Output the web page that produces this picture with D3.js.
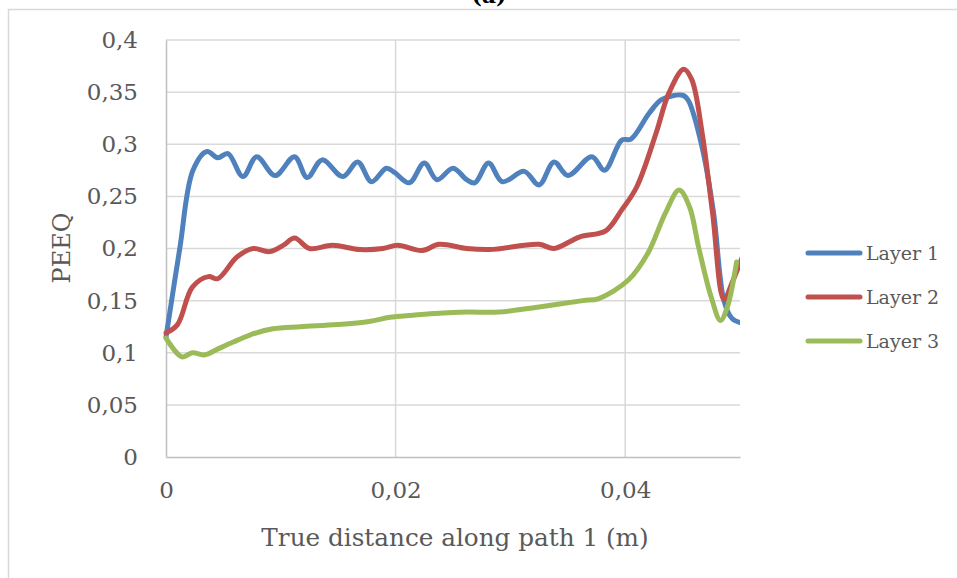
<!DOCTYPE html>
<html>
<head>
<meta charset="utf-8">
<script src="https://cdn.jsdelivr.net/npm/d3@7"></script>
<style>
  html, body { margin: 0; padding: 0; background: #fff; }
  svg { display: block; }
  text { font-family: "DejaVu Serif", "Liberation Serif", serif; fill: #595959; }
</style>
</head>
<body>
<svg id="chart" width="957" height="578"></svg>
<script>
// Distance along path (m) and PEEQ samples for each layer
const layer1X = [0, 0.0012, 0.00235, 0.00357, 0.0045, 0.0054, 0.0067, 0.0079, 0.0095, 0.0112, 0.0123, 0.0136, 0.0154, 0.0167, 0.0179, 0.0192, 0.0199, 0.0212, 0.0225, 0.0236, 0.025, 0.0262, 0.0269, 0.0281, 0.0293, 0.0312, 0.0325, 0.0338, 0.035, 0.0371, 0.0382, 0.0397, 0.0405, 0.0421, 0.0432, 0.045, 0.0455, 0.0467, 0.0477, 0.0486, 0.0493, 0.05];
const layer1Y = [0.115, 0.2, 0.275, 0.293, 0.287, 0.291, 0.269, 0.288, 0.27, 0.288, 0.268, 0.285, 0.269, 0.283, 0.264, 0.277, 0.273, 0.263, 0.282, 0.266, 0.277, 0.266, 0.263, 0.282, 0.264, 0.274, 0.261, 0.283, 0.27, 0.288, 0.275, 0.304, 0.305, 0.33, 0.343, 0.347, 0.342, 0.297, 0.234, 0.15, 0.133, 0.129];

const layer2X = [0, 0.001, 0.0023, 0.0037, 0.0045, 0.0062, 0.0076, 0.009, 0.0102, 0.0112, 0.0125, 0.0145, 0.0169, 0.0189, 0.0202, 0.0223, 0.0238, 0.0262, 0.0282, 0.0325, 0.0338, 0.036, 0.0383, 0.0397, 0.041, 0.0427, 0.0438, 0.0451, 0.0458, 0.0467, 0.0476, 0.0486, 0.0493, 0.05, 0.0505];
const layer2Y = [0.119, 0.127, 0.163, 0.173, 0.171, 0.192, 0.2, 0.197, 0.203, 0.21, 0.2, 0.203, 0.199, 0.2, 0.203, 0.198, 0.204, 0.2, 0.199, 0.204, 0.2, 0.211, 0.217, 0.237, 0.259, 0.311, 0.349, 0.372, 0.362, 0.311, 0.235, 0.151, 0.167, 0.186, 0.2];

const layer3X = [0, 0.0014, 0.0023, 0.0034, 0.0044, 0.0058, 0.0073, 0.0093, 0.0117, 0.0149, 0.0177, 0.0195, 0.0215, 0.0238, 0.0262, 0.029, 0.0319, 0.0363, 0.0377, 0.0403, 0.042, 0.0435, 0.0447, 0.0456, 0.0464, 0.0475, 0.0483, 0.0489, 0.0497];
const layer3Y = [0.114, 0.096, 0.1, 0.098, 0.103, 0.11, 0.117, 0.123, 0.125, 0.127, 0.13, 0.134, 0.136, 0.138, 0.139, 0.139, 0.143, 0.15, 0.152, 0.17, 0.196, 0.234, 0.256, 0.24, 0.201, 0.153, 0.131, 0.144, 0.187];

const seriesNames = ["Layer 1", "Layer 2", "Layer 3"];
const seriesColors = ["#4F81BD", "#C0504D", "#9BBB59"];

const yTicks = [0, 0.05, 0.1, 0.15, 0.2, 0.25, 0.3, 0.35, 0.4];
const xTicks = [0, 0.02, 0.04];
const xTitle = "True distance along path 1 (m)";
const yTitle = "PEEQ";
const panelTitle = "(a)";

const series = [
  { name: seriesNames[0], color: seriesColors[0], pts: layer1X.map((x, i) => [x, layer1Y[i]]) },
  { name: seriesNames[1], color: seriesColors[1], pts: layer2X.map((x, i) => [x, layer2Y[i]]) },
  { name: seriesNames[2], color: seriesColors[2], pts: layer3X.map((x, i) => [x, layer3Y[i]]) }
];

const svg = d3.select("#chart");
const plot = { left: 166, right: 740, top: 40, bottom: 457 };

const x = d3.scaleLinear().domain([0, 0.05]).range([plot.left, plot.right]);
const y = d3.scaleLinear().domain([0, 0.4]).range([plot.bottom, plot.top]);

const fmt = v => String(+v.toFixed(3)).replace(".", ",");

// Outer frame of the chart area
svg.append("rect")
  .attr("x", 8.5).attr("y", 9.5).attr("width", 960).attr("height", 600)
  .attr("fill", "none").attr("stroke", "#D9D9D9").attr("stroke-width", 1.5);

// Panel title (sits above the frame's top edge)
svg.append("text")
  .attr("x", 489).attr("y", 3)
  .attr("text-anchor", "middle")
  .style("font-weight", "bold").style("font-size", "22px").style("fill", "#000")
  .text(panelTitle);

// Horizontal gridlines
svg.append("g")
  .selectAll("line")
  .data(yTicks.filter(v => v > 0))
  .join("line")
  .attr("x1", plot.left).attr("x2", plot.right)
  .attr("y1", d => y(d)).attr("y2", d => y(d))
  .attr("stroke", "#D9D9D9").attr("stroke-width", 1.5);

// Vertical gridlines
svg.append("g")
  .selectAll("line")
  .data(xTicks.filter(v => v > 0))
  .join("line")
  .attr("x1", d => x(d)).attr("x2", d => x(d))
  .attr("y1", plot.top).attr("y2", plot.bottom)
  .attr("stroke", "#D9D9D9").attr("stroke-width", 1.5);

// Axes
const yAxis = d3.axisLeft(y).tickValues(yTicks).tickFormat(fmt).tickSize(0).tickPadding(28);
const xAxis = d3.axisBottom(x).tickValues(xTicks).tickFormat(fmt).tickSize(0).tickPadding(25);

const gy = svg.append("g").attr("transform", `translate(${plot.left},0)`).call(yAxis);
const gx = svg.append("g").attr("transform", `translate(0,${plot.bottom})`).call(xAxis);
[gy, gx].forEach(g => {
  g.select(".domain").attr("stroke", "#BFBFBF").attr("stroke-width", 1.5);
  g.selectAll("text")
    .style("font-family", '"DejaVu Serif", "Liberation Serif", serif')
    .style("font-size", "23px").attr("fill", "#595959");
});

// Axis titles
svg.append("text")
  .attr("x", 455).attr("y", 546)
  .attr("text-anchor", "middle")
  .style("font-size", "24.7px")
  .text(xTitle);

svg.append("text")
  .attr("transform", "translate(70,248) rotate(-90)")
  .attr("text-anchor", "middle")
  .style("font-size", "24px")
  .text(yTitle);

// Series lines, clipped to the plot area
svg.append("clipPath").attr("id", "plotClip")
  .append("rect")
  .attr("x", plot.left - 4).attr("y", plot.top - 10)
  .attr("width", plot.right - plot.left + 4).attr("height", plot.bottom - plot.top + 14);

const line = d3.line()
  .x(d => x(d[0]))
  .y(d => y(d[1]))
  .curve(d3.curveCatmullRom.alpha(0.5));

svg.append("g").attr("clip-path", "url(#plotClip)")
  .selectAll("path")
  .data(series)
  .join("path")
  .attr("d", d => line(d.pts))
  .attr("fill", "none")
  .attr("stroke", d => d.color)
  .attr("stroke-width", 5)
  .attr("stroke-linejoin", "round")
  .attr("stroke-linecap", "round");

// Legend
const legend = svg.append("g");
const legendY = [253, 297, 341];
series.forEach((s, i) => {
  legend.append("line")
    .attr("x1", 808).attr("x2", 860)
    .attr("y1", legendY[i]).attr("y2", legendY[i])
    .attr("stroke", s.color).attr("stroke-width", 5)
    .attr("stroke-linecap", "round");
  legend.append("text")
    .attr("x", 866).attr("y", legendY[i] + 7)
    .style("font-size", "19px")
    .text(s.name);
});
</script>
</body>
</html>
